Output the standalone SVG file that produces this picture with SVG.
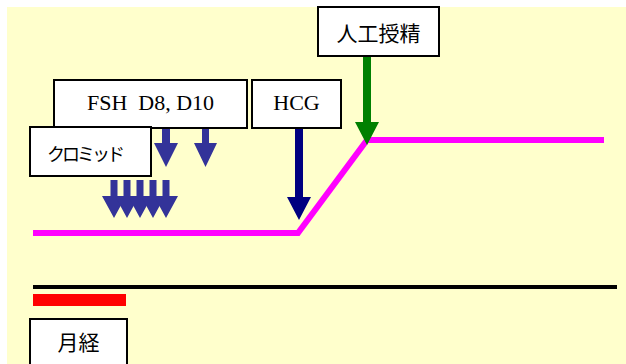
<svg xmlns="http://www.w3.org/2000/svg" width="626" height="364" viewBox="0 0 626 364">
<style>
.box{fill:#ffffff;stroke:#000000;stroke-width:2}
.lat{font-family:"Liberation Serif","Times New Roman",serif;font-size:22px;fill:#000}
.cjk{font-family:"Noto Sans CJK JP","Noto Sans CJK SC",sans-serif;fill:#000}
</style>
<rect x="7" y="7" width="619" height="357" fill="#ffffcc"/>
<g id="connectors">
<polyline points="33,233 298,233 367,140 604,140" fill="none" stroke="#ff00ff" stroke-width="6"/>
<line x1="33" y1="287" x2="617" y2="287" stroke="#000" stroke-width="4"/>
<rect x="33" y="294" width="93" height="12" fill="#ff0000"/>
<polygon points="295,128 303,128 303,197 311,197 299,220 287,197 295,197" fill="#000080"/>
<polygon points="363,56 371,56 371,122 379,122 367,145 355,122 363,122" fill="#008000"/>
<g fill="#333399">
<polygon points="162,128 170,128 170,143 178,143 166,167 154,143 162,143"/>
<polygon points="202,128 209,128 209,143 217,143 205.5,167 194,143 202,143"/>
<polygon points="110.5,180 117.5,180 117.5,196 126,196 114,218 102,196 110.5,196"/>
<polygon points="123.5,180 130.5,180 130.5,196 139,196 127,218 115,196 123.5,196"/>
<polygon points="136.5,180 143.5,180 143.5,196 152,196 140,218 128,196 136.5,196"/>
<polygon points="149.5,180 156.5,180 156.5,196 165,196 153,218 141,196 149.5,196"/>
<polygon points="162.5,180 169.5,180 169.5,196 178,196 166,218 154,196 162.5,196"/>
</g>
</g>
<g id="fsh">
<rect class="box" x="54" y="80" width="193" height="48"/>
<text class="lat" x="150.5" y="110" text-anchor="middle" xml:space="preserve">FSH  D8, D10</text>
</g>
<g id="clomid">
<rect class="box" x="30" y="127" width="121" height="49"/>
<text class="cjk" x="47" y="161" font-size="18" letter-spacing="-3">クロミッド</text>
</g>
<g id="hcg">
<rect class="box" x="252" y="80" width="89" height="48"/>
<text class="lat" x="296.5" y="110" text-anchor="middle">HCG</text>
</g>
<g id="ai">
<rect class="box" x="318" y="7" width="121" height="49"/>
<text class="cjk" x="378.5" y="41" font-size="21" text-anchor="middle">人工授精</text>
</g>
<g id="menses">
<rect class="box" x="30" y="319" width="97" height="50"/>
<text class="cjk" x="78.5" y="350" font-size="21" text-anchor="middle">月経</text>
</g>
</svg>
